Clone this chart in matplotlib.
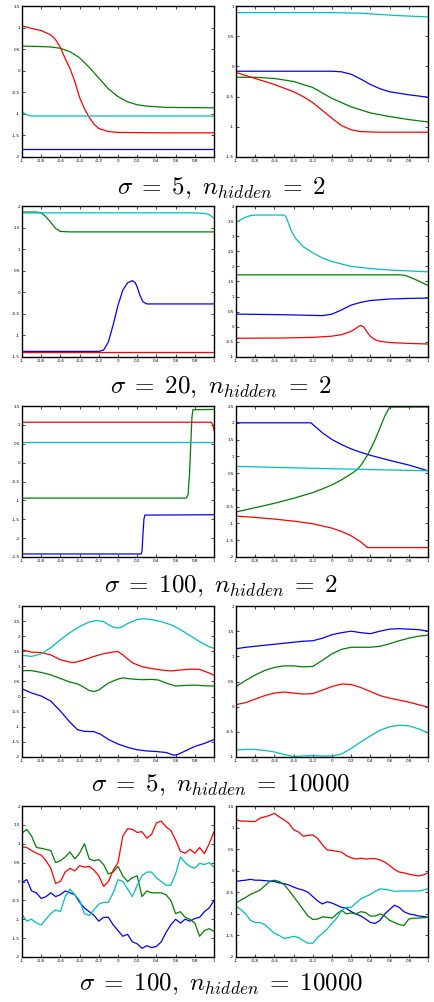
import matplotlib
matplotlib.use("Agg")
import matplotlib.pyplot as plt
from matplotlib.ticker import FuncFormatter, MultipleLocator

plt.rcParams['mathtext.fontset'] = 'cm'
plt.rcParams['font.family'] = ['DejaVu Sans']

# ---------------- Row 1 : sigma=5, n_hidden=2 ----------------
r1a_blue_x = [-1, 1]
r1a_blue_y = [-1.81, -1.81]
r1a_green_x = [-1, -0.8, -0.7, -0.6, -0.5, -0.4, -0.3, -0.2, -0.1, 0, 0.1, 0.2, 0.3, 0.5, 1]
r1a_green_y = [0.57, 0.56, 0.55, 0.52, 0.44, 0.3, 0.08, -0.17, -0.42, -0.6, -0.72, -0.79, -0.82, -0.85, -0.86]
r1a_red_x = [-1, -0.9, -0.8, -0.7, -0.65, -0.6, -0.55, -0.5, -0.45, -0.4, -0.35, -0.3, -0.25, -0.2, -0.1, 0, 0.5, 1]
r1a_red_y = [1.04, 0.98, 0.93, 0.83, 0.72, 0.54, 0.28, 0.05, -0.25, -0.62, -0.88, -1.08, -1.24, -1.34, -1.41, -1.43, -1.44, -1.44]
r1a_cyan_x = [-1, -0.95, -0.9, 1]
r1a_cyan_y = [-0.96, -1.02, -1.05, -1.05]

r1b_blue_x = [-1, 0, 0.1, 0.2, 0.3, 0.4, 0.5, 0.6, 0.8, 1]
r1b_blue_y = [-0.08, -0.08, -0.09, -0.13, -0.21, -0.3, -0.37, -0.42, -0.47, -0.51]
r1b_green_x = [-1, -0.8, -0.6, -0.4, -0.2, 0, 0.2, 0.4, 0.6, 0.8, 1]
r1b_green_y = [-0.18, -0.18, -0.2, -0.25, -0.35, -0.53, -0.67, -0.77, -0.83, -0.88, -0.92]
r1b_red_x = [-1, -0.8, -0.6, -0.4, -0.3, -0.2, -0.1, 0, 0.1, 0.2, 0.3, 0.5, 1]
r1b_red_y = [-0.1, -0.2, -0.3, -0.42, -0.5, -0.6, -0.73, -0.86, -0.98, -1.05, -1.08, -1.09, -1.09]
r1b_cyan_x = [-1, 0, 0.3, 0.5, 0.7, 1]
r1b_cyan_y = [0.89, 0.89, 0.88, 0.86, 0.84, 0.82]

# ---------------- Row 2 : sigma=20, n_hidden=2 ----------------
r2a_blue_x = [-1, -0.2, -0.15, -0.1, -0.05, 0, 0.05, 0.1, 0.15, 0.18, 0.2, 0.23, 0.26, 0.3, 1]
r2a_blue_y = [-1.37, -1.37, -1.34, -1.15, -0.75, -0.3, 0.05, 0.22, 0.27, 0.22, 0.12, -0.08, -0.22, -0.27, -0.27]
r2a_green_x = [-1, -0.85, -0.8, -0.75, -0.7, -0.65, -0.6, -0.5, 1]
r2a_green_y = [1.86, 1.86, 1.84, 1.75, 1.62, 1.48, 1.41, 1.4, 1.4]
r2a_red_x = [-1, 1]
r2a_red_y = [-1.39, -1.39]
r2a_cyan_x = [-1, 0.8, 0.9, 0.95, 1]
r2a_cyan_y = [1.84, 1.84, 1.83, 1.8, 1.72]

r2b_blue_x = [-1, -0.5, -0.1, 0, 0.1, 0.2, 0.3, 0.4, 0.6, 0.8, 1]
r2b_blue_y = [0.42, 0.4, 0.37, 0.42, 0.56, 0.72, 0.81, 0.87, 0.92, 0.94, 0.95]
r2b_green_x = [-1, 0.7, 0.75, 0.8, 0.9, 1]
r2b_green_y = [1.72, 1.72, 1.71, 1.66, 1.52, 1.37]
r2b_red_x = [-1, -0.5, -0.2, 0, 0.1, 0.2, 0.25, 0.28, 0.3, 0.33, 0.36, 0.4, 0.45, 0.5, 0.6, 0.8, 1]
r2b_red_y = [-0.38, -0.37, -0.35, -0.31, -0.26, -0.15, -0.05, 0.02, 0.04, 0.0, -0.15, -0.32, -0.43, -0.48, -0.52, -0.55, -0.57]
r2b_cyan_x = [-1, -0.95, -0.9, -0.85, -0.8, -0.5, -0.48, -0.45, -0.42, -0.38, -0.3, -0.2, -0.1, 0, 0.2, 0.4, 0.6, 0.8, 1]
r2b_cyan_y = [3.45, 3.55, 3.63, 3.68, 3.7, 3.7, 3.65, 3.4, 3.15, 2.93, 2.65, 2.45, 2.28, 2.16, 2.0, 1.93, 1.88, 1.85, 1.82]

# ---------------- Row 3 : sigma=100, n_hidden=2 ----------------
r3a_blue_x = [-1, 0.24, 0.25, 0.26, 0.27, 0.28, 1]
r3a_blue_y = [-2.42, -2.42, -2.35, -1.9, -1.5, -1.39, -1.38]
r3a_green_x = [-1, 0.71, 0.73, 0.745, 0.76, 0.77, 0.78, 1]
r3a_green_y = [-0.94, -0.94, -0.85, -0.3, 0.6, 1.2, 1.4, 1.41]
r3a_red_x = [-1, 0.97, 0.99, 1]
r3a_red_y = [1.07, 1.07, 1.0, 0.85]
r3a_cyan_x = [-1, 1]
r3a_cyan_y = [0.55, 0.55]

r3b_blue_x = [-1, -0.22, -0.2, -0.1, 0, 0.1, 0.2, 0.3, 0.4, 0.6, 0.8, 1]
r3b_blue_y = [2.0, 2.0, 1.95, 1.7, 1.5, 1.35, 1.22, 1.12, 1.03, 0.88, 0.74, 0.57]
r3b_green_x = [-1, -0.8, -0.6, -0.4, -0.2, -0.1, 0, 0.1, 0.2, 0.26, 0.3, 0.375, 0.45, 0.5, 0.55, 0.6, 1]
r3b_green_y = [-0.66, -0.53, -0.4, -0.25, -0.08, 0.03, 0.15, 0.3, 0.48, 0.6, 0.73, 1.06, 1.5, 1.85, 2.2, 2.47, 2.47]
r3b_red_x = [-1, -0.8, -0.6, -0.4, -0.2, 0, 0.1, 0.2, 0.3, 0.37, 1]
r3b_red_y = [-0.78, -0.82, -0.87, -0.93, -1.01, -1.14, -1.24, -1.37, -1.55, -1.72, -1.72]
r3b_cyan_x = [-1, 0, 1]
r3b_cyan_y = [0.7, 0.63, 0.57]

# ---------------- Row 4 : sigma=5, n_hidden=10000 ----------------
r4a_blue_x = [-1, -0.9, -0.8, -0.7, -0.6, -0.5, -0.42, -0.35, -0.25, -0.18, -0.1, 0, 0.1, 0.2, 0.3, 0.4, 0.5, 0.58, 0.62, 0.7, 0.8, 0.9, 1]
r4a_blue_y = [0.26, 0.12, 0.02, -0.15, -0.48, -0.85, -1.1, -1.15, -1.16, -1.25, -1.42, -1.57, -1.68, -1.76, -1.8, -1.82, -1.85, -1.94, -1.92, -1.8, -1.65, -1.55, -1.42]
r4a_green_x = [-1, -0.9, -0.8, -0.7, -0.6, -0.5, -0.42, -0.35, -0.3, -0.25, -0.2, -0.1, 0, 0.05, 0.15, 0.25, 0.35, 0.42, 0.5, 0.6, 0.7, 0.8, 0.9, 1]
r4a_green_y = [0.86, 0.86, 0.8, 0.72, 0.6, 0.48, 0.42, 0.3, 0.2, 0.17, 0.22, 0.45, 0.58, 0.62, 0.58, 0.56, 0.57, 0.55, 0.45, 0.35, 0.37, 0.38, 0.36, 0.35]
r4a_red_x = [-1, -0.9, -0.8, -0.7, -0.6, -0.5, -0.45, -0.35, -0.25, -0.15, -0.05, 0, 0.05, 0.15, 0.25, 0.35, 0.45, 0.55, 0.65, 0.75, 0.85, 0.95, 1]
r4a_red_y = [1.55, 1.47, 1.46, 1.38, 1.22, 1.14, 1.13, 1.22, 1.33, 1.42, 1.48, 1.49, 1.38, 1.12, 0.99, 0.93, 0.88, 0.85, 0.88, 0.91, 0.9, 0.78, 0.71]
r4a_cyan_x = [-1, -0.9, -0.8, -0.7, -0.6, -0.5, -0.4, -0.3, -0.22, -0.15, -0.1, -0.05, 0, 0.05, 0.1, 0.2, 0.27, 0.35, 0.45, 0.55, 0.65, 0.75, 0.85, 0.95, 1]
r4a_cyan_y = [1.37, 1.33, 1.42, 1.62, 1.88, 2.12, 2.32, 2.47, 2.52, 2.48, 2.38, 2.3, 2.27, 2.32, 2.42, 2.55, 2.58, 2.55, 2.48, 2.38, 2.22, 2.02, 1.82, 1.65, 1.6]

r4b_grid_x = [-1, -0.9, -0.8, -0.7, -0.6, -0.5, -0.4, -0.3, -0.2, -0.1, 0, 0.1, 0.2, 0.3, 0.4, 0.5, 0.6, 0.7, 0.8, 0.9, 1]
r4b_blue_y = [1.15, 1.18, 1.2, 1.22, 1.24, 1.26, 1.28, 1.3, 1.31, 1.36, 1.43, 1.47, 1.5, 1.47, 1.45, 1.5, 1.54, 1.55, 1.54, 1.53, 1.5]
r4b_green_y = [0.4, 0.52, 0.63, 0.72, 0.78, 0.81, 0.81, 0.79, 0.8, 0.92, 1.05, 1.14, 1.18, 1.18, 1.18, 1.2, 1.25, 1.31, 1.36, 1.4, 1.42]
r4b_red_y = [0.04, 0.08, 0.15, 0.22, 0.27, 0.29, 0.27, 0.25, 0.26, 0.33, 0.4, 0.45, 0.44, 0.38, 0.3, 0.22, 0.17, 0.13, 0.09, 0.04, -0.01]
r4b_cyan_y = [-0.86, -0.85, -0.85, -0.87, -0.9, -0.95, -0.99, -0.98, -0.97, -0.98, -0.98, -0.94, -0.83, -0.7, -0.58, -0.47, -0.4, -0.37, -0.38, -0.44, -0.52]

# ---------------- Row 5 : sigma=100, n_hidden=10000 ----------------
r5_grid_x = [-1, -0.95, -0.9, -0.85, -0.8, -0.75, -0.7, -0.65, -0.6, -0.55, -0.5, -0.45, -0.4, -0.35, -0.3, -0.25,
             -0.2, -0.15, -0.1, -0.05, 0, 0.05, 0.1, 0.15, 0.2, 0.25, 0.3, 0.35, 0.4, 0.45, 0.5, 0.55, 0.6,
             0.65, 0.7, 0.75, 0.8, 0.85, 0.9, 0.95, 1]
r5a_blue_y = [-0.02, 0.05, -0.25, -0.3, -0.45, -0.4, -0.3, -0.4, -0.35, -0.25, -0.3, -0.35, -0.55, -0.7, -0.8, -0.9,
              -1.05, -0.95, -0.95, -1.15, -1.3, -1.45, -1.4, -1.6, -1.65, -1.77, -1.7, -1.75, -1.72, -1.6, -1.35,
              -1.15, -1.0, -1.1, -1.0, -1.05, -0.98, -0.95, -0.8, -0.7, -0.5]
r5a_green_y = [1.28, 1.38, 1.2, 0.9, 0.88, 0.85, 0.82, 0.5, 0.55, 0.65, 0.78, 0.6, 0.75, 1.0, 0.6, 0.55,
               0.58, 0.45, 0.2, 0.25, 0.4, 0.15, 0.0, 0.1, 0.15, -0.4, -0.25, -0.3, -0.3, -0.3, -0.35,
               -0.5, -0.85, -0.8, -0.95, -1.0, -1.1, -1.45, -1.3, -1.25, -1.32]
r5a_red_y = [0.92, 0.9, 0.82, 0.75, 0.7, 0.55, 0.35, -0.05, 0.0, 0.25, 0.35, 0.28, 0.42, 0.38, 0.4, 0.3,
             0.15, -0.13, 0.0, 0.3, 0.5, 1.2, 1.4, 1.38, 1.3, 1.32, 1.15, 1.25, 1.55, 1.6, 1.45, 1.35,
             1.1, 0.8, 0.75, 0.85, 0.75, 0.9, 0.74, 1.0, 1.32]
r5a_cyan_y = [-0.87, -1.05, -1.0, -1.1, -1.15, -1.0, -0.85, -0.75, -0.8, -0.4, -0.2, -0.35, -0.5, -0.85, -0.9, -0.75,
              -0.6, -0.55, -0.55, -0.3, 0.05, 0.0, -0.2, -0.4, -0.1, 0.15, 0.25, 0.25, 0.1, 0.0, -0.1,
              -0.1, 0.2, 0.65, 0.5, 0.4, 0.35, 0.48, 0.45, 0.5, 0.38]

r5b_blue_y = [-0.25, -0.23, -0.22, -0.2, -0.22, -0.22, -0.23, -0.24, -0.25, -0.28, -0.3, -0.33, -0.38, -0.42, -0.45, -0.5,
              -0.6, -0.7, -0.77, -0.72, -0.75, -0.8, -0.85, -0.87, -0.95, -1.0, -1.05, -1.12, -1.2, -1.22, -1.15,
              -1.0, -0.9, -0.8, -0.85, -0.95, -1.0, -1.02, -1.05, -1.06, -1.08]
r5b_green_y = [-0.75, -0.68, -0.62, -0.55, -0.5, -0.45, -0.35, -0.25, -0.22, -0.25, -0.32, -0.45, -0.6, -0.75, -0.9, -1.05,
               -1.13, -1.12, -1.07, -1.08, -1.1, -1.0, -0.92, -1.0, -0.98, -1.0, -0.95, -0.97, -1.05, -1.05, -1.0,
               -1.05, -1.15, -1.2, -1.25, -1.27, -1.12, -1.1, -1.1, -1.09, -1.08]
r5b_red_y = [1.18, 1.15, 1.15, 1.14, 1.14, 1.22, 1.25, 1.28, 1.33, 1.25, 1.18, 1.1, 0.95, 0.9, 0.8, 0.82,
             0.83, 0.75, 0.6, 0.48, 0.47, 0.45, 0.43, 0.35, 0.3, 0.27, 0.29, 0.27, 0.28, 0.28, 0.25,
             0.2, 0.12, 0.03, -0.03, -0.05, -0.08, -0.1, -0.12, -0.1, -0.05]
r5b_cyan_y = [-0.82, -0.9, -1.0, -1.15, -1.2, -1.2, -1.25, -1.35, -1.45, -1.5, -1.57, -1.55, -1.52, -1.55, -1.62, -1.68,
              -1.68, -1.55, -1.45, -1.35, -1.22, -1.1, -0.92, -0.85, -0.85, -0.75, -0.65, -0.6, -0.55, -0.48, -0.42,
              -0.43, -0.45, -0.48, -0.47, -0.47, -0.47, -0.47, -0.47, -0.45, -0.42]

titles = [r'$\sigma\;=\;5,\ n_{hidden}\;=\;2$',
          r'$\sigma\;=\;20,\ n_{hidden}\;=\;2$',
          r'$\sigma\;=\;100,\ n_{hidden}\;=\;2$',
          r'$\sigma\;=\;5,\ n_{hidden}\;=\;10000$',
          r'$\sigma\;=\;100,\ n_{hidden}\;=\;10000$']

ylims = [((-2, 1.5), (-1.5, 1)),
         ((-1.5, 2), (-1, 4)),
         ((-2.5, 1.5), (-2, 2.5)),
         ((-2, 3), (-1, 2)),
         ((-2, 2), (-2, 1.5))]

C_BLUE = (0, 0, 1)
C_GREEN = (0, 0.5, 0)
C_RED = (1, 0, 0)
C_CYAN = (0, 0.75, 0.75)

panels = [
    [[(r1a_blue_x, r1a_blue_y, C_BLUE), (r1a_green_x, r1a_green_y, C_GREEN), (r1a_red_x, r1a_red_y, C_RED), (r1a_cyan_x, r1a_cyan_y, C_CYAN)],
     [(r1b_blue_x, r1b_blue_y, C_BLUE), (r1b_green_x, r1b_green_y, C_GREEN), (r1b_red_x, r1b_red_y, C_RED), (r1b_cyan_x, r1b_cyan_y, C_CYAN)]],
    [[(r2a_blue_x, r2a_blue_y, C_BLUE), (r2a_green_x, r2a_green_y, C_GREEN), (r2a_red_x, r2a_red_y, C_RED), (r2a_cyan_x, r2a_cyan_y, C_CYAN)],
     [(r2b_blue_x, r2b_blue_y, C_BLUE), (r2b_green_x, r2b_green_y, C_GREEN), (r2b_red_x, r2b_red_y, C_RED), (r2b_cyan_x, r2b_cyan_y, C_CYAN)]],
    [[(r3a_blue_x, r3a_blue_y, C_BLUE), (r3a_green_x, r3a_green_y, C_GREEN), (r3a_red_x, r3a_red_y, C_RED), (r3a_cyan_x, r3a_cyan_y, C_CYAN)],
     [(r3b_blue_x, r3b_blue_y, C_BLUE), (r3b_green_x, r3b_green_y, C_GREEN), (r3b_red_x, r3b_red_y, C_RED), (r3b_cyan_x, r3b_cyan_y, C_CYAN)]],
    [[(r4a_blue_x, r4a_blue_y, C_BLUE), (r4a_green_x, r4a_green_y, C_GREEN), (r4a_red_x, r4a_red_y, C_RED), (r4a_cyan_x, r4a_cyan_y, C_CYAN)],
     [(r4b_grid_x, r4b_blue_y, C_BLUE), (r4b_grid_x, r4b_green_y, C_GREEN), (r4b_grid_x, r4b_red_y, C_RED), (r4b_grid_x, r4b_cyan_y, C_CYAN)]],
    [[(r5_grid_x, r5a_blue_y, C_BLUE), (r5_grid_x, r5a_green_y, C_GREEN), (r5_grid_x, r5a_red_y, C_RED), (r5_grid_x, r5a_cyan_y, C_CYAN)],
     [(r5_grid_x, r5b_blue_y, C_BLUE), (r5_grid_x, r5b_green_y, C_GREEN), (r5_grid_x, r5b_red_y, C_RED), (r5_grid_x, r5b_cyan_y, C_CYAN)]],
]

W, H = 435, 1002
fig = plt.figure(figsize=(W / 100, H / 100), dpi=100)

fmt = FuncFormatter(lambda v, p: ('%g' % round(v, 3)))

for r in range(5):
    top_px = 6 + 200 * r
    bot_px = 157 + 200 * r
    for c, left_px in enumerate([22, 236]):
        ax = fig.add_axes([left_px / W, 1 - bot_px / H, 192 / W, (bot_px - top_px) / H])
        for xs, ys, col in panels[r][c]:
            ax.plot(xs, ys, color=col, lw=0.9)
        ax.set_xlim(-1, 1)
        ax.set_ylim(*ylims[r][c])
        ax.xaxis.set_major_locator(MultipleLocator(0.2))
        ax.yaxis.set_major_locator(MultipleLocator(0.5))
        ax.xaxis.set_major_formatter(fmt)
        ax.yaxis.set_major_formatter(fmt)
        ax.tick_params(direction='in', length=2, width=0.5, top=True, right=True,
                       labelsize=3, pad=1.5, colors='black')
        for s in ax.spines.values():
            s.set_linewidth(1.0)
    fig.text(221 / W, 1 - (194 + 199 * r) / H, titles[r], ha='center', va='baseline', fontsize=18)

fig.savefig('out.png', dpi=100)
